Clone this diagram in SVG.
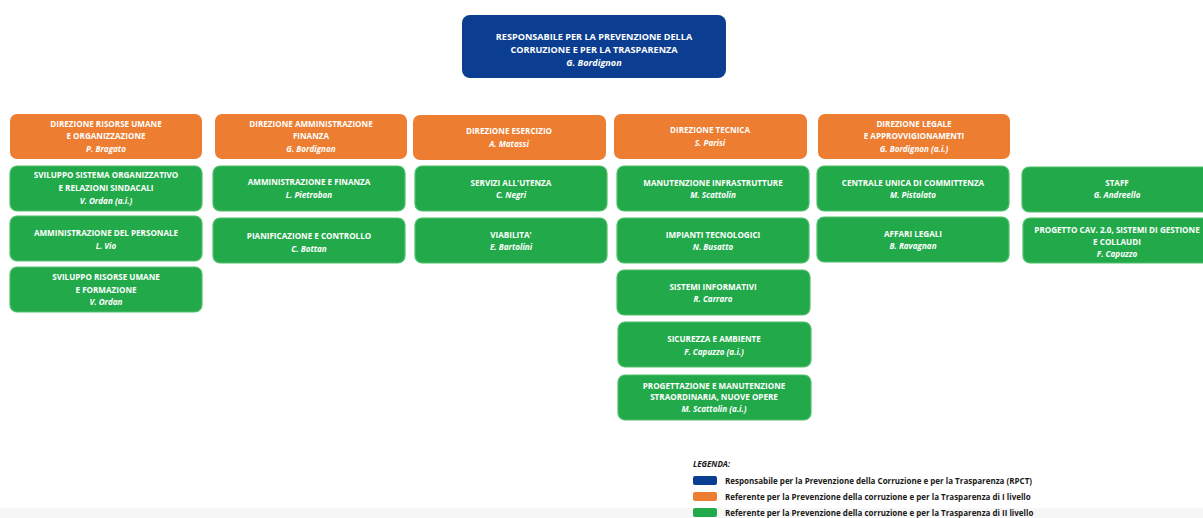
<svg xmlns="http://www.w3.org/2000/svg" width="1203" height="518" viewBox="0 0 1203 518">
<style>
.blue{fill:#0b3d91}
.or{fill:#ed7d31}
.gr{fill:#22aa4a;stroke:#52bf6c;stroke-width:1.2}
text{font-family:"Open Sans",Lato,"Liberation Sans",sans-serif;font-weight:700;fill:#fff;text-anchor:middle;font-size:8.1px}
.t{font-size:9.1px}
.n{font-style:italic}
.lg{fill:#1a1a1a;text-anchor:start;font-size:8px}
</style>
<rect x="0" y="508" width="1203" height="10" fill="#f7f7f7"/>
<g id="rpct"><rect class="blue" x="462" y="15" width="264" height="63" rx="8"/>
<text class="t" x="594" y="40">RESPONSABILE PER LA PREVENZIONE DELLA</text>
<text class="t" x="594" y="53">CORRUZIONE E PER LA TRASPARENZA</text>
<text class="t n" x="594" y="66">G. Bordignon</text></g>
<g id="o1"><rect class="or" x="10" y="114" width="192" height="45" rx="7"/>
<text x="106" y="127">DIREZIONE RISORSE UMANE</text><text x="106" y="139">E ORGANIZZAZIONE</text><text class="n" x="106" y="152">P. Bragato</text></g>
<g id="o2"><rect class="or" x="215" y="114" width="192" height="45" rx="7"/>
<text x="311" y="127">DIREZIONE AMMINISTRAZIONE</text><text x="311" y="139">FINANZA</text><text class="n" x="311" y="152">G. Bordignon</text></g>
<g id="o3"><rect class="or" x="413" y="115" width="193" height="45" rx="7"/>
<text x="509" y="134">DIREZIONE ESERCIZIO</text><text class="n" x="509" y="147">A. Matassi</text></g>
<g id="o4"><rect class="or" x="614" y="114" width="193" height="45" rx="7"/>
<text x="710" y="133">DIREZIONE TECNICA</text><text class="n" x="710" y="146">S. Parisi</text></g>
<g id="o5"><rect class="or" x="818" y="114" width="192" height="45" rx="7"/>
<text x="914" y="127">DIREZIONE LEGALE</text><text x="914" y="139">E APPROVVIGIONAMENTI</text><text class="n" x="914" y="152">G. Bordignon (a.i.)</text></g>

<g id="g11"><rect class="gr" x="10" y="166" width="192" height="45" rx="7"/>
<text x="106" y="178">SVILUPPO SISTEMA ORGANIZZATIVO</text><text x="106" y="191">E RELAZIONI SINDACALI</text><text class="n" x="106" y="204">V. Ordan (a.i.)</text></g>
<g id="g12"><rect class="gr" x="213" y="166" width="192" height="45" rx="7"/>
<text x="309" y="185">AMMINISTRAZIONE E FINANZA</text><text class="n" x="309" y="198">L. Pietrobon</text></g>
<g id="g13"><rect class="gr" x="415" y="166" width="192" height="45" rx="7"/>
<text x="511" y="186">SERVIZI ALL'UTENZA</text><text class="n" x="511" y="198">C. Negri</text></g>
<g id="g14"><rect class="gr" x="617" y="166" width="192" height="45" rx="7"/>
<text x="713" y="186">MANUTENZIONE INFRASTRUTTURE</text><text class="n" x="713" y="198">M. Scattolin</text></g>
<g id="g15"><rect class="gr" x="817" y="166" width="192" height="45" rx="7"/>
<text x="913" y="186">CENTRALE UNICA DI COMMITTENZA</text><text class="n" x="913" y="198">M. Pistolato</text></g>
<g id="g16"><rect class="gr" x="1022" y="167" width="190" height="45" rx="7"/>
<text x="1117" y="186">STAFF</text><text class="n" x="1117" y="198">G. Andreello</text></g>

<g id="g21"><rect class="gr" x="10" y="216" width="192" height="45" rx="7"/>
<text x="106" y="236">AMMINISTRAZIONE DEL PERSONALE</text><text class="n" x="106" y="249">L. Vio</text></g>
<g id="g22"><rect class="gr" x="213" y="218" width="192" height="45" rx="7"/>
<text x="309" y="239">PIANIFICAZIONE E CONTROLLO</text><text class="n" x="309" y="252">C. Bottan</text></g>
<g id="g23"><rect class="gr" x="415" y="218" width="192" height="45" rx="7"/>
<text x="511" y="238">VIABILITA'</text><text class="n" x="511" y="250">E. Bartolini</text></g>
<g id="g24"><rect class="gr" x="617" y="218" width="192" height="45" rx="7"/>
<text x="713" y="238">IMPIANTI TECNOLOGICI</text><text class="n" x="713" y="250">N. Busatto</text></g>
<g id="g25"><rect class="gr" x="817" y="217" width="192" height="45" rx="7"/>
<text x="913" y="237">AFFARI LEGALI</text><text class="n" x="913" y="249">B. Ravagnan</text></g>
<g id="g26"><rect class="gr" x="1023" y="218" width="190" height="45" rx="7"/>
<text x="1117" y="233">PROGETTO CAV. 2.0, SISTEMI DI GESTIONE</text><text x="1117" y="245">E COLLAUDI</text><text class="n" x="1117" y="257">F. Capuzzo</text></g>

<g id="g31"><rect class="gr" x="10" y="267" width="192" height="45" rx="7"/>
<text x="106" y="280">SVILUPPO RISORSE UMANE</text><text x="106" y="293">E FORMAZIONE</text><text class="n" x="106" y="305">V. Ordan</text></g>
<g id="g34"><rect class="gr" x="617" y="270" width="193" height="45" rx="7"/>
<text x="713" y="290">SISTEMI INFORMATIVI</text><text class="n" x="713" y="302">R. Carraro</text></g>
<g id="g44"><rect class="gr" x="618" y="322" width="193" height="45" rx="7"/>
<text x="714" y="342">SICUREZZA E AMBIENTE</text><text class="n" x="714" y="355">F. Capuzzo (a.i.)</text></g>
<g id="g54"><rect class="gr" x="618" y="375" width="193" height="45" rx="7"/>
<text x="714" y="389">PROGETTAZIONE E MANUTENZIONE</text><text x="714" y="400">STRAORDINARIA, NUOVE OPERE</text><text class="n" x="714" y="412">M. Scattolin (a.i.)</text></g>

<g id="connectors"></g>

<g id="legend">
<text class="lg n" x="693" y="467">LEGENDA:</text>
<rect class="blue" x="693" y="476" width="24" height="9" rx="2"/>
<rect class="or" x="693" y="492" width="24" height="9" rx="2"/>
<rect fill="#22aa4a" x="693" y="508" width="24" height="9" rx="2"/>
<text class="lg" x="725" y="484">Responsabile per la Prevenzione della Corruzione e per la Trasparenza (RPCT)</text>
<text class="lg" x="725" y="500">Referente per la Prevenzione della corruzione e per la Trasparenza di I livello</text>
<text class="lg" x="725" y="516">Referente per la Prevenzione della corruzione e per la Trasparenza di II livello</text>
</g>
</svg>
